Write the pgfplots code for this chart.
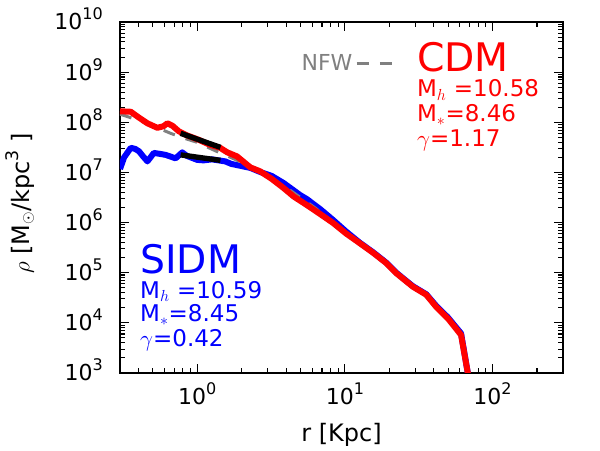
\documentclass[border=0pt]{standalone}
\usepackage{pgfplots}
\pgfplotsset{compat=1.18}
\usepackage{fontspec}
\setmainfont{DejaVu Sans}
\newcommand{\sups}[1]{\raisebox{7.5pt}{\fontsize{12}{12}\selectfont #1}}
\definecolor{nfwgray}{RGB}{128,128,128}
\begin{document}
\begin{tikzpicture}
\useasboundingbox (-90pt,-57.75pt) rectangle (360pt,279.75pt);
\begin{axis}[
  at={(0,0)}, anchor=south west,
  scale only axis, width=332.25pt, height=263.25pt,
  xmode=log, ymode=log,
  xmin=0.3, xmax=300, ymin=1e3, ymax=1e10,
  xtick={1,10,100},
  xticklabels={10\sups{0},10\sups{1},10\sups{2}},
  ytick={1e3,1e4,1e5,1e6,1e7,1e8,1e9,1e10},
  yticklabels={10\sups{3},10\sups{4},10\sups{5},10\sups{6},10\sups{7},10\sups{8},10\sups{9},10\sups{10}},
  minor xtick={0.4,0.5,0.6,0.7,0.8,0.9,2,3,4,5,6,7,8,9,20,30,40,50,60,70,80,90,200,300},
  minor ytick={2e3,3e3,4e3,5e3,6e3,7e3,8e3,9e3,
               2e4,3e4,4e4,5e4,6e4,7e4,8e4,9e4,
               2e5,3e5,4e5,5e5,6e5,7e5,8e5,9e5,
               2e6,3e6,4e6,5e6,6e6,7e6,8e6,9e6,
               2e7,3e7,4e7,5e7,6e7,7e7,8e7,9e7,
               2e8,3e8,4e8,5e8,6e8,7e8,8e8,9e8,
               2e9,3e9,4e9,5e9,6e9,7e9,8e9,9e9},
  tick align=inside,
  major tick length=6.5pt, minor tick length=3.5pt,
  every tick/.style={black, line width=0.8pt},
  axis line style={line width=1.5pt},
  tick label style={font=\fontsize{16.5}{18}\selectfont},
  xticklabel style={anchor=base, inner sep=0pt, yshift=-24pt},
  yticklabel style={anchor=base east, inner sep=0pt, xshift=-12.75pt, yshift=-6pt},
  xlabel={r [Kpc]},
  xlabel style={at={(axis description cs:0.5,0)}, anchor=base, inner sep=0pt, yshift=-51.5pt, font=\fontsize{18}{20}\selectfont},
  ylabel={$\rho$ [M$_{\odot}$/kpc\raisebox{8pt}{\fontsize{13}{13}\selectfont 3} ]},
  ylabel style={at={(axis description cs:-0.2257,0.483)}, anchor=center, inner sep=0pt, font=\fontsize{18}{20}\selectfont},
  legend plot pos=right,
  legend style={draw=none, fill=none, at={(0.41,0.881)}, anchor=west, inner sep=0pt, outer sep=0pt,
    font=\fontsize{16.5}{18}\selectfont, text=nfwgray, nodes={inner sep=0pt},
    column sep=2pt},
  legend image code/.code={\draw[#1] (0pt,0pt) -- (27.5pt,0pt);},
]
% SIDM
\addplot[blue, line width=4.5pt, line join=round, forget plot] coordinates {
(0.30,1.17e7) (0.32,2.0e7) (0.355,3.09e7) (0.38,2.95e7) (0.404,2.63e7) (0.43,2.09e7)
(0.46,1.66e7) (0.509,2.45e7) (0.56,2.34e7) (0.611,2.24e7) (0.714,1.91e7) (0.792,2.51e7)
(0.85,2.14e7) (1.0,1.78e7) (1.1,1.74e7) (1.26,1.82e7) (1.55,1.66e7) (1.7,1.48e7)
(2.29,1.23e7) (2.67,1.02e7) (3.2,8.51e6) (3.84,6.17e6) (4.97,3.55e6) (5.52,2.95e6)
(6.8,1.86e6) (8.34,1.12e6) (10.2,6.61e5) (12.6,3.98e5) (15.5,2.57e5) (19.1,1.58e5)
(22.3,1.0e5) (25.5,7.24e4) (28.9,5.37e4) (35.6,3.72e4) (41.5,2.19e4) (49.8,1.29e4)
(61.2,6.17e3) (68,1.0e3) (72,316)
};
% NFW
\addplot[nfwgray, line width=2.25pt, dash pattern=on 9pt off 8.5pt] coordinates {
(0.30,1.45e8) (0.4,1.10e8) (0.5,8.51e7) (0.66,6.03e7) (0.8,4.90e7) (1.0,3.98e7)
(1.33,2.69e7) (1.6,2.14e7) (2.0,1.58e7) (2.5,1.15e7) (3.2,7.59e6) (4.0,5.01e6)
(5.0,3.16e6) (6.3,1.95e6) (8.0,1.10e6) (10,6.61e5) (12.6,3.80e5) (16,2.29e5)
(20,1.38e5) (25,7.94e4) (30,5.01e4)
};
\addlegendentry{NFW}
% CDM
\addplot[red, line width=4.5pt, line join=round, forget plot] coordinates {
(0.30,1.66e8) (0.355,1.62e8) (0.40,1.26e8) (0.46,9.55e7) (0.537,7.76e7) (0.59,8.32e7)
(0.628,9.55e7) (0.68,8.51e7) (0.751,6.61e7) (0.85,5.50e7) (1.025,4.47e7) (1.2,3.63e7)
(1.43,3.09e7) (1.6,2.51e7) (1.86,2.09e7) (2.29,1.26e7) (2.67,1.05e7) (3.2,7.41e6)
(3.84,4.90e6) (4.5,3.31e6) (5.52,2.24e6) (6.8,1.48e6) (8.34,9.77e5) (10.2,6.03e5)
(12.6,3.89e5) (15.5,2.51e5) (19.1,1.55e5) (22.3,9.77e4) (25.5,7.08e4) (28.9,5.25e4)
(35.6,3.63e4) (41.5,2.09e4) (49.8,1.23e4) (61.2,5.75e3) (68,1.0e3) (72,316)
};
% fits
\addplot[black, line width=4pt, forget plot] coordinates {(0.772,6.03e7) (1.436,3.16e7)};
\addplot[black, line width=4pt, forget plot] coordinates {(0.772,2.24e7) (1.436,1.74e7)};
% labels
\node[anchor=base west, inner sep=0pt, text=red, font=\fontsize{29.5}{30}\selectfont] at (rel axis cs:0.670,0.858) {CDM};
\node[anchor=base west, inner sep=0pt, text=red, font=\fontsize{17.25}{18}\selectfont] at (rel axis cs:0.670,0.787) {M$_h$ =10.58};
\node[anchor=base west, inner sep=0pt, text=red, font=\fontsize{17.25}{18}\selectfont] at (rel axis cs:0.670,0.716) {M$_*$=8.46};
\node[anchor=base west, inner sep=0pt, text=red, font=\fontsize{17.25}{18}\selectfont] at (rel axis cs:0.670,0.645) {$\gamma$=1.17};
\node[anchor=base west, inner sep=0pt, text=blue, font=\fontsize{29.5}{30}\selectfont] at (rel axis cs:0.045,0.284) {SIDM};
\node[anchor=base west, inner sep=0pt, text=blue, font=\fontsize{17.25}{18}\selectfont] at (rel axis cs:0.045,0.213) {M$_h$ =10.59};
\node[anchor=base west, inner sep=0pt, text=blue, font=\fontsize{17.25}{18}\selectfont] at (rel axis cs:0.045,0.146) {M$_*$=8.45};
\node[anchor=base west, inner sep=0pt, text=blue, font=\fontsize{17.25}{18}\selectfont] at (rel axis cs:0.045,0.075) {$\gamma$=0.42};
\end{axis}
\end{tikzpicture}
\end{document}
